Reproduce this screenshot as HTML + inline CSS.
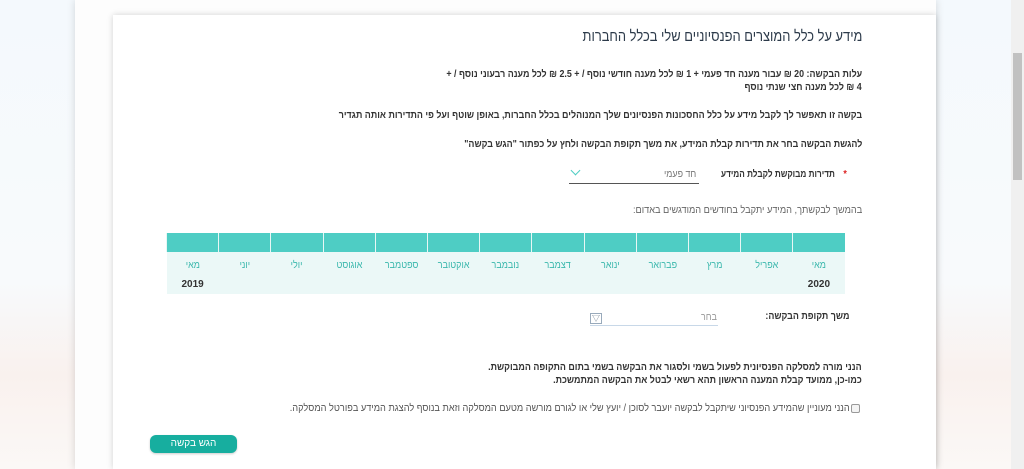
<!DOCTYPE html>
<html><head><meta charset="utf-8"><style>
*{margin:0;padding:0;box-sizing:border-box}
html,body{width:1024px;height:469px;overflow:hidden}
body{position:relative;background:linear-gradient(180deg,#f4f9fd 0%,#f8fafc 60%,#f9f1ee 80%,#fbf8f6 100%);font-family:"Liberation Sans","Noto Sans CJK SC",sans-serif;color:#333}
.outer{position:absolute;left:75px;top:0;width:861px;height:469px;background:#fdfdfd;box-shadow:0 0 8px rgba(0,0,0,.15)}
.card{position:absolute;left:113px;top:15px;width:823px;height:454px;background:#fff;box-shadow:0 0 6px rgba(0,0,0,.18)}
.t{position:absolute;right:162px;direction:rtl;text-align:right;white-space:nowrap;font-size:10px;font-weight:bold;color:#333;transform:scaleX(.89);transform-origin:right center}
.sb{position:absolute;left:1011px;top:0;width:13px;height:469px;background:#f0f0f0}
.th{position:absolute;left:1013px;top:53px;width:9px;height:127px;background:#c1c1c1}
table{position:absolute;left:166px;top:233px;width:679px;border-collapse:collapse;direction:rtl;table-layout:fixed}
td{font-size:10px;text-align:center;overflow:hidden;white-space:nowrap}
.h td{background:#4ecdc4;height:19px;border-left:1px solid #e8f7f5}
.m td{background:#ebf8f7;color:#3bb8ad;height:23px;padding-top:4px}
.m td span{display:inline-block;transform:scaleX(.9)}
.y td{background:#ebf8f7;height:19px;font-weight:bold;color:#333}
</style></head><body>
<div class="outer"></div>
<div class="card"></div>
<div class="sb"></div><div class="th"></div>
<div class="t" style="top:28px;font-size:15px;font-weight:normal;color:#2c3a4a;transform:scaleX(.86)">מידע על כלל המוצרים הפנסיוניים שלי בכלל החברות</div>
<div class="t" style="top:69px">עלות הבקשה: 20 ₪ עבור מענה חד פעמי + 1 ₪ לכל מענה חודשי נוסף / + 2.5 ₪ לכל מענה רבעוני נוסף / +</div>
<div class="t" style="top:82px">4 ₪ לכל מענה חצי שנתי נוסף</div>
<div class="t" style="top:110px">בקשה זו תאפשר לך לקבל מידע על כלל החסכונות הפנסיונים שלך המנוהלים בכלל החברות, באופן שוטף ועל פי התדירות אותה תגדיר</div>
<div class="t" style="top:139px">להגשת הבקשה בחר את תדירות קבלת המידע, את משך תקופת הבקשה ולחץ על כפתור "הגש בקשה"</div>
<div class="t" style="top:169px;right:177px;color:#d22">*</div>
<div class="t" style="top:169px;right:189px;transform:scaleX(.82)">תדירות מבוקשת לקבלת המידע</div>
<div style="position:absolute;left:569px;top:183px;width:130px;border-bottom:1px solid #555"></div>
<div class="t" style="top:169px;right:328px;font-weight:normal;color:#777">חד פעמי</div>
<div style="position:absolute;left:572px;top:167px;width:7px;height:7px;border-right:1.5px solid #4ecdc4;border-bottom:1.5px solid #4ecdc4;transform:rotate(45deg)"></div>
<div class="t" style="top:205px;font-weight:normal;color:#666;transform:scaleX(.92)">בהמשך לבקשתך, המידע יתקבל בחודשים המודגשים באדום:</div>
<table>
<tr class="h"><td></td><td></td><td></td><td></td><td></td><td></td><td></td><td></td><td></td><td></td><td></td><td></td><td></td></tr>
<tr class="m"><td><span>מאי</span></td><td><span>אפריל</span></td><td><span>מרץ</span></td><td><span>פברואר</span></td><td><span>ינואר</span></td><td><span>דצמבר</span></td><td><span>נובמבר</span></td><td><span>אוקטובר</span></td><td><span>ספטמבר</span></td><td><span>אוגוסט</span></td><td><span>יולי</span></td><td><span>יוני</span></td><td><span>מאי</span></td></tr>
<tr class="y"><td>2020</td><td></td><td></td><td></td><td></td><td></td><td></td><td></td><td></td><td></td><td></td><td></td><td>2019</td></tr>
</table>
<div class="t" style="top:311px;right:175px">משך תקופת הבקשה:</div>
<div style="position:absolute;left:590px;top:325px;width:128px;border-bottom:1px solid #c8d8e8"></div>
<div class="t" style="top:312px;right:307px;font-weight:normal;color:#999">בחר</div>
<div style="position:absolute;left:590px;top:313px;width:12px;height:11px;border:1px solid #9ab;background:#fff;font-size:8px;line-height:9px;text-align:center;color:#678">▽</div>
<div class="t" style="top:362px">הנני מורה למסלקה הפנסיונית לפעול בשמי ולסגור את הבקשה בשמי בתום התקופה המבוקשת.</div>
<div class="t" style="top:375px">כמו-כן, ממועד קבלת המענה הראשון תהא רשאי לבטל את הבקשה המתמשכת.</div>
<div class="t" style="top:403px;right:174px;font-weight:normal;color:#555;transform:scaleX(.92)">הנני מעוניין שהמידע הפנסיוני שיתקבל לבקשה יועבר לסוכן / יועץ שלי או לגורם מורשה מטעם המסלקה וזאת בנוסף להצגת המידע בפורטל המסלקה.</div>
<div style="position:absolute;left:851px;top:404px;width:9px;height:9px;border:1px solid #999;border-radius:2px;background:#f4f4f4"></div>
<div style="position:absolute;left:150px;top:435px;width:87px;height:18px;background:#17ae9f;border-radius:6px;color:#fff;font-size:10px;text-align:center;line-height:18px;direction:rtl;box-shadow:0 1px 2px rgba(0,0,0,.2)">הגש בקשה</div>
</body></html>
